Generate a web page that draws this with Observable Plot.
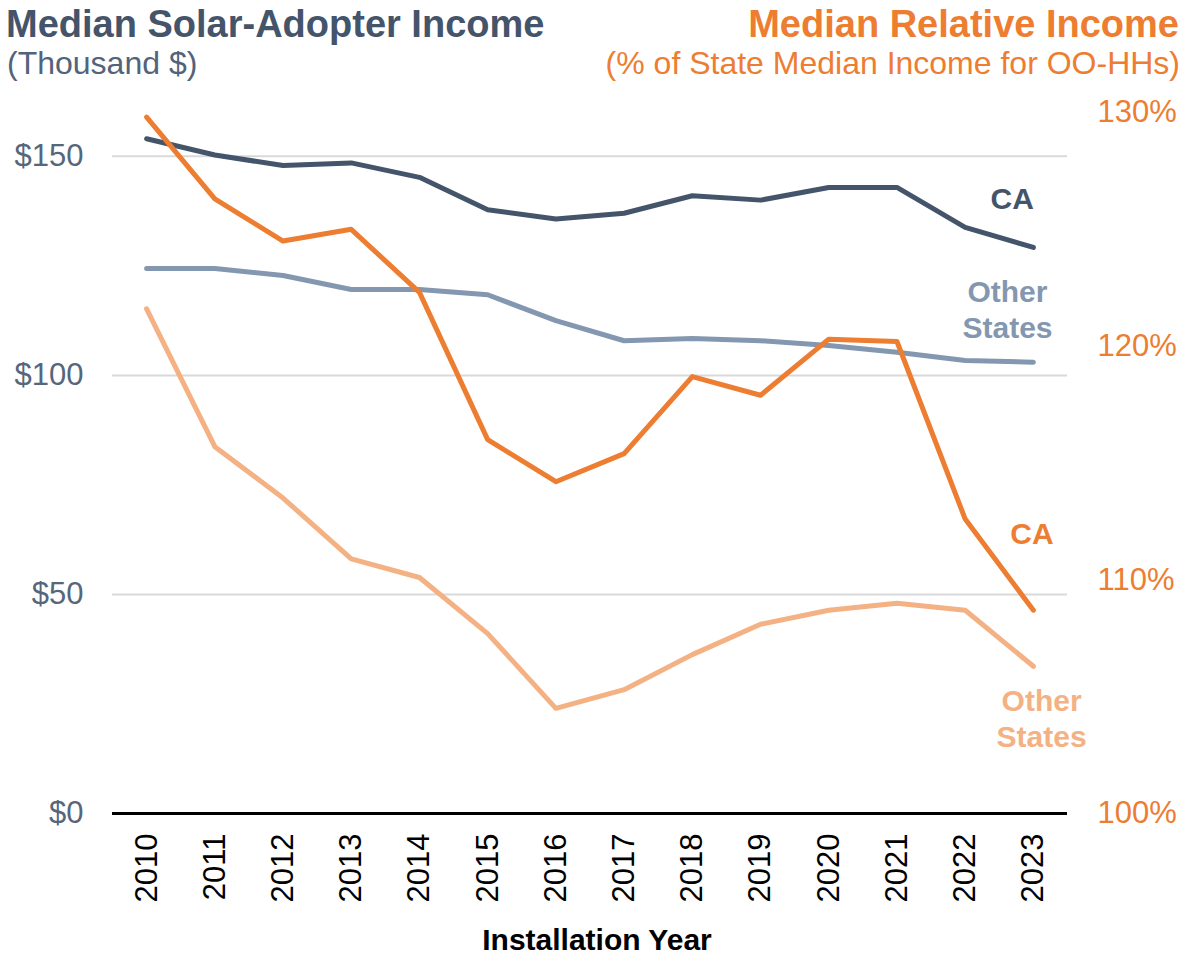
<!DOCTYPE html>
<html>
<head>
<meta charset="utf-8">
<script src="https://cdn.jsdelivr.net/npm/d3@7"></script>
<script src="https://cdn.jsdelivr.net/npm/@observablehq/plot@0.6"></script>
<style>
  body { margin: 0; background: #fff; font-family: Arial, "Liberation Sans", sans-serif; }
  #wrap { position: relative; width: 1184px; height: 956px; overflow: hidden; background: #fff; }
  #head { position: relative; height: 96px; }
  .t { position: absolute; white-space: nowrap; line-height: 1; }
  #chart svg { display: block; }
  #cap { position: absolute; left: 0; width: 1194px; top: 919px; height: 42px; line-height: 42px;
         text-align: center; font-size: 30px; font-weight: bold; color: #000; }
</style>
</head>
<body>
<div id="wrap">
  <div id="head">
    <div class="t" style="left:6px; top:5px; font-size:38px; font-weight:bold; color:#44546a;">Median Solar-Adopter Income</div>
    <div class="t" style="left:7px; top:47px; font-size:32px; color:#53637a;">(Thousand $)</div>
    <div class="t" style="right:5px; top:5px; font-size:38px; font-weight:bold; color:#ed7d31;">Median Relative Income</div>
    <div class="t" style="right:4px; top:47px; font-size:32px; color:#ed7d31;">(% of State Median Income for OO-HHs)</div>
  </div>
  <div id="chart"></div>
  <div id="cap">Installation Year</div>
</div>
<script>
// ---- data ----
const years = [2010, 2011, 2012, 2013, 2014, 2015, 2016, 2017, 2018, 2019, 2020, 2021, 2022, 2023];
// Median solar-adopter income, thousand $ (left axis)
const caIncome    = [154.0, 150.3, 147.9, 148.5, 145.2, 137.8, 135.7, 137.0, 141.0, 140.0, 142.9, 142.9, 133.8, 129.2];
const otherIncome = [124.4, 124.4, 122.8, 119.6, 119.6, 118.4, 112.5, 107.9, 108.4, 107.9, 106.8, 105.3, 103.4, 103.0];
// Median relative income, % of state median income for OO-HHs (right axis)
const caRelative    = [129.8, 126.3, 124.5, 125.0, 122.3, 116.0, 114.2, 115.4, 118.7, 117.9, 120.3, 120.2, 112.6, 108.7];
const otherRelative = [121.6, 115.7, 113.5, 110.9, 110.1, 107.7, 104.5, 105.3, 106.8, 108.1, 108.7, 109.0, 108.7, 106.3];
const leftTicks  = [0, 50, 100, 150];
const rightTicks = [100, 110, 120, 130];
const leftDomain  = [0, 160];
const rightDomain = [100, 130];

// map the right-axis (%) values onto the left scale
const toLeft  = p => (p - rightDomain[0]) / (rightDomain[1] - rightDomain[0]) * (leftDomain[1] - leftDomain[0]) + leftDomain[0];
const toRight = v => (v - leftDomain[0]) / (leftDomain[1] - leftDomain[0]) * (rightDomain[1] - rightDomain[0]) + rightDomain[0];

const rows = years.map((year, i) => ({
  year,
  caIncome: caIncome[i],
  otherIncome: otherIncome[i],
  caRelative: caRelative[i],
  otherRelative: otherRelative[i]
}));

const C = {
  caIncome: "#44546a",
  otherIncome: "#8497b0",
  caRelative: "#ed7d31",
  otherRelative: "#f4b183"
};

const lineStyle = { strokeWidth: 5, strokeLinecap: "round", strokeLinejoin: "round" };
const labelStyle = { fontSize: 30, fontWeight: "bold", textAnchor: "middle", lineAnchor: "middle", lineHeight: 1.2 };
const label = (txt, x, y, fill) => Plot.text([txt], { x: () => x, y: () => y, text: d => d, fill, ...labelStyle });

const chart = Plot.plot({
  width: 1184,
  height: 818,
  marginLeft: 112,
  marginRight: 117,
  marginTop: 16,
  marginBottom: 101,
  x: { domain: [2009.5, 2023.5] },
  y: { domain: leftDomain },
  style: { fontFamily: 'Arial, "Liberation Sans", sans-serif', background: "#fff", overflow: "visible" },
  marks: [
    Plot.ruleY(leftTicks.filter(d => d > 0), { stroke: "#d9d9d9", strokeWidth: 2 }),
    Plot.axisY(leftTicks, { anchor: "left", tickSize: 0, tickPadding: 29, fontSize: 31, color: "#56667b",
                            tickFormat: d => "$" + d, label: null }),
    Plot.axisY(rightTicks.map(toLeft), { anchor: "right", tickSize: 0, tickPadding: 30, fontSize: 31, color: "#ed7d31",
                            tickFormat: d => Math.round(toRight(d)) + "%", label: null }),
    Plot.axisX(years, { anchor: "bottom", tickSize: 0, tickPadding: 20, tickRotate: -90, fontSize: 31, color: "#000",
                        tickFormat: d => String(d), label: null }),
    Plot.ruleY([0], { stroke: "#000", strokeWidth: 3 }),
    Plot.line(rows, { x: "year", y: "otherIncome", stroke: C.otherIncome, ...lineStyle }),
    Plot.line(rows, { x: "year", y: "caIncome", stroke: C.caIncome, ...lineStyle }),
    Plot.line(rows, { x: "year", y: d => toLeft(d.otherRelative), stroke: C.otherRelative, ...lineStyle }),
    Plot.line(rows, { x: "year", y: d => toLeft(d.caRelative), stroke: C.caRelative, ...lineStyle }),
    label("CA", 2022.69, 140.5, C.caIncome),
    label("Other\nStates", 2022.62, 115.3, C.otherIncome),
    label("CA", 2022.98, 64.2, C.caRelative),
    label("Other\nStates", 2023.12, 22.0, C.otherRelative)
  ]
});
document.getElementById("chart").appendChild(chart);
</script>
</body>
</html>
